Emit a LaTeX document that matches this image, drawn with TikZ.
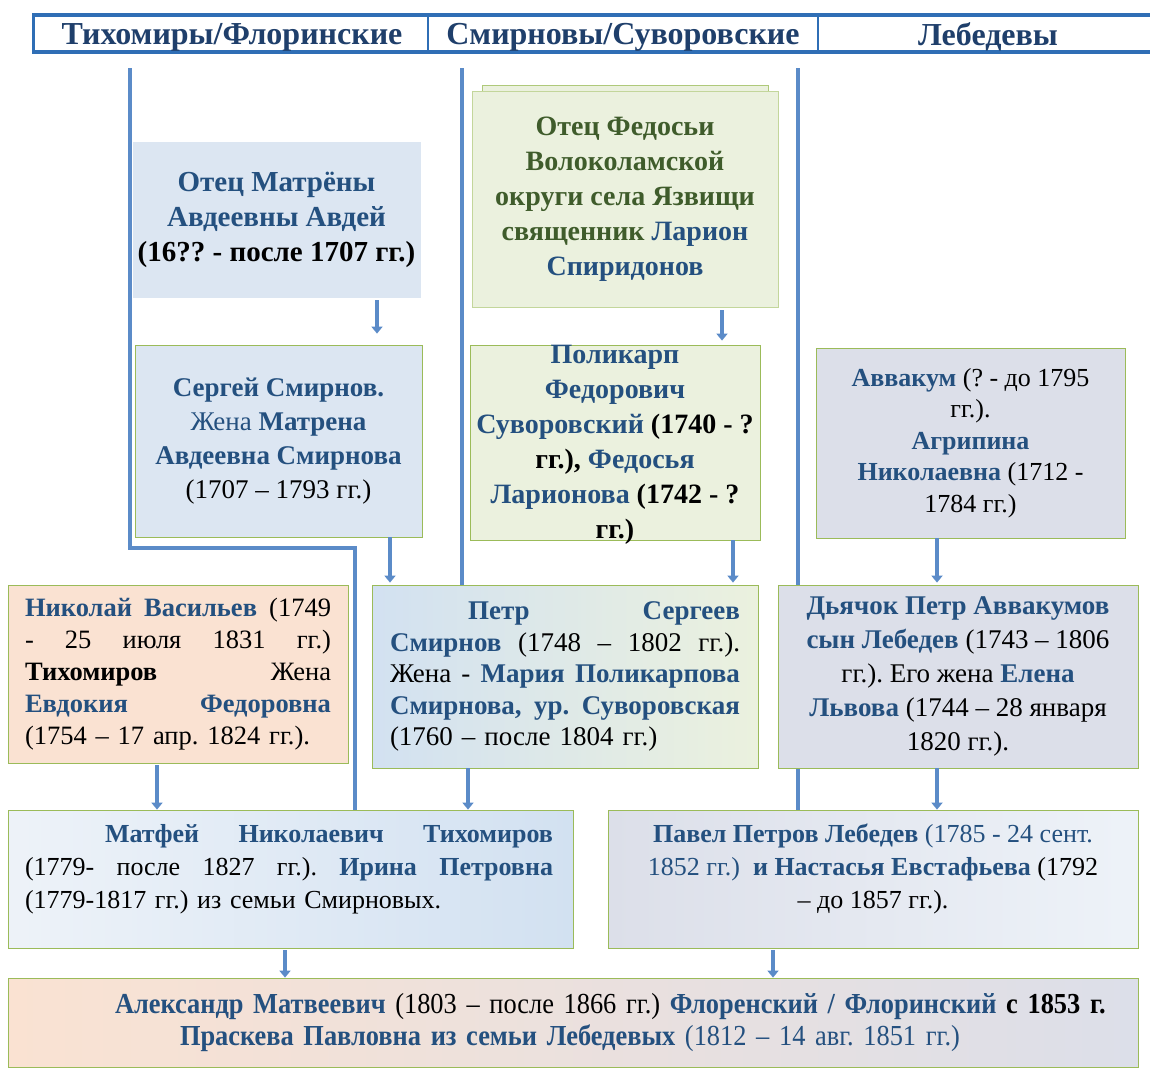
\documentclass[tikz,border=0pt]{standalone}
\usepackage{fontspec}
\setmainfont{Liberation Serif}
\newfontfamily\narrowserif[FakeStretch=0.91]{Liberation Serif}
\usepackage{tikz}
\usetikzlibrary{arrows.meta,backgrounds}

\definecolor{lineblue}{HTML}{5B8BC8}
\definecolor{hdrline}{HTML}{2F6EB5}
\definecolor{hdrtext}{HTML}{1F3F6B}
\definecolor{namec}{HTML}{24507F}
\definecolor{olivec}{HTML}{3F5C2B}
\definecolor{edgec}{HTML}{9BBB59}
\definecolor{bluefill}{HTML}{DCE6F2}
\definecolor{deepfill}{HTML}{D2E1F1}
\definecolor{greenfill}{HTML}{EBF1DE}
\definecolor{peachfill}{HTML}{FAE2D2}
\definecolor{greyfill}{HTML}{DCDFE9}

\newcommand\nm[1]{\textbf{\textcolor{namec}{#1}}}
\newcommand\bn[1]{\textcolor{namec}{#1}}
\newcommand\gr[1]{\textbf{\textcolor{olivec}{#1}}}
% one line stretched to the full width of the box
\newcommand\jl[1]{\makebox[\hsize][s]{\spaceskip=0pt\xspaceskip=0pt #1}}

\begin{document}
\frenchspacing
\begin{tikzpicture}[x=1pt,y=-1pt,
  box/.style={draw=edgec,line width=0.8pt,inner xsep=2pt,inner ysep=0pt,
    font=\fontsize{26pt}{33pt}\selectfont},
  bluebox/.style={box,fill=bluefill},
  greenbox/.style={box,fill=greenfill},
  peachbox/.style={box,fill=peachfill},
  greybox/.style={box,fill=greyfill},
  txt/.style={inner sep=0pt,font=\fontsize{26pt}{33pt}\selectfont},
  hdr/.style={inner sep=0pt,text=hdrtext,font=\fontsize{32pt}{36pt}\selectfont\bfseries},
  lineage/.style={draw=lineblue,line width=3.5pt},
  link/.style={draw=lineblue,line width=4pt,-{Triangle[width=11pt,length=7pt]}}]

  \useasboundingbox (0,0) rectangle (1150,1068);

  % header row
  \draw[hdrline,line width=4pt] (33,15) -- (1150,15) (33,52) -- (1150,52);
  \draw[hdrline,line width=3pt] (33,13) -- (33,54);
  \draw[hdrline,line width=2pt] (428,15) -- (428,52) (818,15) -- (818,52);
  \node[hdr] (hdA) at (232,37) {Тихомиры/Флоринские};
  \node[hdr] (hdB) at (623,37) {Смирновы/Суворовские};
  \node[hdr] (hdC) at (988,37) {Лебедевы};

  % Smirnov side
  \node[bluebox,draw=bluefill,minimum width=287pt,minimum height=155pt,
        align=center,font=\fontsize{29pt}{35pt}\selectfont]
    (avdey) at (276.5,219.5)
    {\nm{Отец Матрёны}\\ \nm{Авдеевны Авдей}\\ \textbf{(16?? - после 1707 гг.)}};
  \node[bluebox,minimum width=287pt,minimum height=192pt,
        align=center,font=\fontsize{27pt}{34pt}\selectfont]
    (sergey) at (278.5,441)
    {\nm{Сергей Смирнов.}\\ \bn{Жена} \nm{Матрена}\\ \nm{Авдеевна Смирнова}\\ (1707 – 1793 гг.)};

  % Suvorovsky side
  \draw[edgec!80,fill=greenfill,line width=0.8pt] (482,85) rectangle (768,100);
  \node[greenbox,draw=edgec!60,minimum width=306pt,minimum height=216pt,
        align=center,font=\fontsize{28pt}{35pt}\selectfont]
    (larion) at (625,199)
    {\gr{Отец Федосьи}\\ \gr{Волоколамской}\\ \gr{округи села Язвищи}\\
     \gr{священник} \nm{Ларион}\\ \nm{Спиридонов}};
  \node[greenbox,minimum width=290pt,minimum height=195pt] (polikarp) at (615,442.5) {};
  \node[txt,align=center,font=\fontsize{28pt}{35pt}\selectfont]
    (polikarp-t) at (615,445)
    {\nm{Поликарп}\\ \nm{Федорович}\\ \nm{Суворовский} \textbf{(1740 - ?}\\
     \textbf{гг.),} \nm{Федосья}\\ \nm{Ларионова} \textbf{(1742 - ?}\\ \textbf{гг.)}};

  % Lebedev side
  \node[greybox,minimum width=309pt,minimum height=190pt,
        align=center,font=\fontsize{26pt}{31.5pt}\selectfont]
    (avvakum) at (970.5,443)
    {\nm{Аввакум} (? - до 1795\\ гг.).\\ \nm{Агрипина}\\ \nm{Николаевна} (1712 -\\ 1784 гг.)};

  % second generation
  \node[peachbox,minimum width=340pt,minimum height=178pt,text width=306pt,
        align=left,font=\fontsize{26.5pt}{32pt}\selectfont]
    (nikolay) at (178,674)
    {\jl{\nm{Николай Васильев} (1749}\\ \jl{- 25 июля 1831 гг.)}\\
     \jl{\textbf{Тихомиров} Жена}\\ \jl{\nm{Евдокия Федоровна}}\\ (1754 – 17 апр. 1824 гг.).};
  \node[box,left color=deepfill,right color=greenfill,
        minimum width=386pt,minimum height=183pt,text width=350pt,
        align=left,font=\fontsize{27pt}{31.5pt}\selectfont]
    (petr) at (565,676.5)
    {\jl{\hspace*{78pt}\nm{Петр Сергеев}}\\ \jl{\nm{Смирнов} (1748 – 1802 гг.).}\\
     \jl{Жена - \nm{Мария Поликарпова}}\\ \jl{\nm{Смирнова, ур. Суворовская}}\\
     (1760 – после 1804 гг.)};
  \node[greybox,minimum width=360pt,minimum height=183pt,
        align=center,font=\fontsize{27pt}{34pt}\selectfont]
    (dyachok) at (958,676.5)
    {\nm{Дьячок Петр Аввакумов}\\ \nm{сын Лебедев} (1743 – 1806\\
     гг.). Его жена \nm{Елена}\\ \nm{Львова} (1744 – 28 января\\ 1820 гг.).};

  % third generation
  \node[box,left color=bluefill!50!white,middle color=peachfill,right color=deepfill,
        minimum width=565pt,minimum height=138pt] (matfey) at (290.5,879) {};
  \node[txt,text width=528pt,align=left] (matfey-t) at (289,869)
    {\jl{\hspace*{80pt}\nm{Матфей Николаевич Тихомиров}}\\
     \jl{(1779- после 1827 гг.). \nm{Ирина Петровна}}\\ (1779-1817 гг.) из семьи Смирновых.};
  \node[box,left color=greyfill,right color=bluefill!50!white,
        minimum width=530pt,minimum height=138pt] (pavel) at (873,879) {};
  \node[txt,align=center] (pavel-t) at (873,869)
    {\nm{Павел Петров Лебедев} \bn{(1785 - 24 сент.}\\
     \bn{1852 гг.)}\ \ \nm{и Настасья Евстафьева} (1792\\ – до 1857 гг.).};

  % last generation
  \node[box,left color=peachfill,middle color=bluefill,right color=greyfill,
        minimum width=1130pt,minimum height=89pt,text width=1126pt,align=left,
        font=\narrowserif\fontsize{29pt}{32pt}\selectfont]
    (alexandr) at (573,1022.5)
    {\hspace*{105pt}\nm{Александр Матвеевич} (1803 – после 1866 гг.) \nm{Флоренский / Флоринский} \textbf{с 1853 г.}\\
     \hspace*{170pt}\nm{Праскева Павловна из семьи Лебедевых} \bn{(1812 – 14 авг. 1851 гг.)}};

  % family lines behind the boxes
  \begin{pgfonlayer}{background}
    \coordinate (topA) at (130,68);
    \coordinate (bendA) at (355,548);
    \coordinate (topB) at (462,68);
    \coordinate (topC) at (798,68);
    \draw[lineage] (topA) |- (bendA) -- (bendA |- matfey.north);
    \draw[lineage] (topB) -- (topB |- petr.north);
    \draw[lineage] (topC) -- (topC |- pavel.north);
  \end{pgfonlayer}

  % arrows
  \draw[link,shorten <=3pt,shorten >=11pt] ([xshift=100.5pt]avdey.south) -- ([xshift=100.5pt]avdey.south |- sergey.north);
  \draw[link,shorten <=3pt,shorten >=4pt] ([xshift=97pt]larion.south) -- ([xshift=97pt]larion.south |- polikarp.north);
  \draw[link,shorten >=2pt] ([xshift=111.5pt]sergey.south) -- ([xshift=111.5pt]sergey.south |- petr.north);
  \draw[link,shorten >=2pt] ([xshift=118pt]polikarp.south) -- ([xshift=118pt]polikarp.south |- petr.north);
  \draw[link,shorten >=2pt] ([xshift=-33.5pt]avvakum.south) -- ([xshift=-33.5pt]avvakum.south |- dyachok.north);
  \draw[link,shorten <=2pt] ([xshift=-21pt]nikolay.south) -- ([xshift=-21pt]nikolay.south |- matfey.north);
  \draw[link] ([xshift=-97pt]petr.south) -- ([xshift=-97pt]petr.south |- matfey.north);
  \draw[link] ([xshift=-21pt]dyachok.south) -- ([xshift=-21pt]dyachok.south |- pavel.north);
  \draw[link,shorten <=2pt] ([xshift=-5.5pt]matfey.south) -- ([xshift=-5.5pt]matfey.south |- alexandr.north);
  \draw[link,shorten <=2pt] ([xshift=-100pt]pavel.south) -- ([xshift=-100pt]pavel.south |- alexandr.north);
\end{tikzpicture}
\end{document}
